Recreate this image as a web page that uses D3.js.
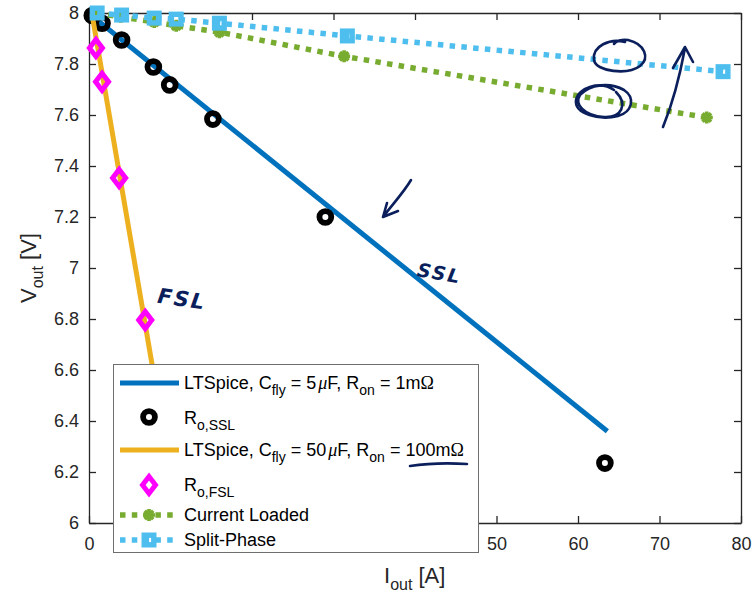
<!DOCTYPE html>
<html>
<head>
<meta charset="utf-8">
<script src="https://cdn.jsdelivr.net/npm/d3@7"></script>
<style>
  body { margin: 0; background: #fff; }
  svg { display: block; font-family: "Liberation Sans", Arial, sans-serif; }
</style>
</head>
<body>
<div id="chart"></div>
<script>
// data (Iout in A, Vout in V)
const ltspiceSSL = [[0.3, 7.99], [63.6, 6.36]];
const roSSL = [[0.4, 7.99], [1.6, 7.96], [4.0, 7.894], [7.9, 7.788], [9.9, 7.718], [15.2, 7.584], [29.0, 7.2], [63.3, 6.235]];
const ltspiceFSL = [[0.4, 7.99], [10.0, 6.2]];
const roFSL = [[0.85, 7.863], [1.6, 7.73], [3.7, 7.353], [6.9, 6.796]];
const currentLoaded = [[0.9, 7.998], [3.9, 7.985], [8.0, 7.965], [10.7, 7.95], [16.0, 7.925], [31.3, 7.83], [75.8, 7.59]];
const splitPhase = [[1.0, 8.0], [4.0, 7.992], [8.0, 7.98], [10.7, 7.976], [16.0, 7.96], [31.7, 7.91], [77.8, 7.77]];

const xTicks = [0, 10, 20, 30, 40, 50, 60, 70, 80];
const yTicks = [6, 6.2, 6.4, 6.6, 6.8, 7, 7.2, 7.4, 7.6, 7.8, 8];

let w = 756;
let h = 595;
let padL = 89, padR = 741, padT = 13, padB = 523;
// legend box (it hangs over the lower x labels, as in the figure)
let legX = 113.5, legY = 364.5, legW = 365, legH = 188;

let svg = d3.select("#chart").append("svg")
    .attr("width", w)
    .attr("height", h);

let x = d3.scaleLinear().domain([0, 80]).range([padL, padR]);
let y = d3.scaleLinear().domain([6, 8]).range([padB, padT]);

const ink = "#262626";

// axes box with inward ticks
let xAxis = svg.append("g")
    .attr("transform", "translate(0," + padB + ")")
    .call(d3.axisBottom(x).tickValues(xTicks).tickSize(-7).tickSizeOuter(0).tickPadding(14).tickFormat(d3.format("d")));
let xTop = svg.append("g")
    .attr("transform", "translate(0," + padT + ")")
    .call(d3.axisTop(x).tickValues(xTicks).tickSize(-7).tickSizeOuter(0).tickFormat(""));
let yAxis = svg.append("g")
    .attr("transform", "translate(" + padL + ",0)")
    .call(d3.axisLeft(y).tickValues(yTicks).tickSize(-7).tickSizeOuter(0).tickPadding(10).tickFormat(d3.format("~g")));
let yRight = svg.append("g")
    .attr("transform", "translate(" + padR + ",0)")
    .call(d3.axisRight(y).tickValues(yTicks).tickSize(-7).tickSizeOuter(0).tickFormat(""));

[xAxis, xTop, yAxis, yRight].forEach(function (g) {
    g.selectAll("path.domain").attr("stroke", ink).attr("stroke-width", 1.3);
    g.selectAll(".tick line").attr("stroke", ink).attr("stroke-width", 1.3);
    g.selectAll(".tick text").attr("fill", ink).attr("font-size", 18)
        .attr("font-family", "Liberation Sans, Arial, sans-serif");
});
xAxis.selectAll(".tick text").attr("dy", "0.71em");
// labels sitting under the legend are covered in the figure
xAxis.selectAll(".tick text").filter(function (d) {
    return x(d) > legX + 5 && x(d) < legX + legW;
}).remove();

// axis titles
svg.append("text")
    .attr("x", 384).attr("y", 583)
    .attr("font-size", 22).attr("fill", ink)
    .html('I<tspan font-size="16" dy="7">out</tspan><tspan dy="-7"> [A]</tspan>');
svg.append("text")
    .attr("transform", "translate(36,268) rotate(-90)")
    .attr("text-anchor", "middle")
    .attr("font-size", 22).attr("fill", ink)
    .html('V<tspan font-size="16" dy="7">out</tspan><tspan dy="-7"> [V]</tspan>');

let line = d3.line().x(function (d) { return x(d[0]); }).y(function (d) { return y(d[1]); });

const blue = "#0072BD", orange = "#EDB120", magenta = "#FF00FF", green = "#77AC30", lblue = "#4DBEEE";

function diamond(g, cx, cy) {
    g.append("path")
        .attr("d", "M" + cx + "," + (cy - 8.5) + "L" + (cx + 6.5) + "," + cy + "L" + cx + "," + (cy + 8.5) + "L" + (cx - 6.5) + "," + cy + "Z")
        .attr("fill", "none").attr("stroke", magenta).attr("stroke-width", 5);
}
function asterisk(g, cx, cy) {
    let r = 6;
    let p = "";
    [0, 45, 90, 135].forEach(function (a) {
        let dx = r * Math.cos(a * Math.PI / 180), dy = r * Math.sin(a * Math.PI / 180);
        p += "M" + (cx - dx) + "," + (cy - dy) + "L" + (cx + dx) + "," + (cy + dy);
    });
    g.append("path").attr("d", p).attr("stroke", green).attr("stroke-width", 3.6).attr("fill", "none");
}
function square(g, cx, cy) {
    g.append("rect").attr("x", cx - 4.8).attr("y", cy - 4.8).attr("width", 9.6).attr("height", 9.6)
        .attr("fill", "none").attr("stroke", lblue).attr("stroke-width", 5.4);
}
function ring(g, cx, cy) {
    g.append("circle").attr("cx", cx).attr("cy", cy).attr("r", 5.9)
        .attr("fill", "none").attr("stroke", "#000").attr("stroke-width", 5.8);
}

let plot = svg.append("g");

plot.append("path").datum(ltspiceSSL).attr("d", line)
    .attr("fill", "none").attr("stroke", blue).attr("stroke-width", 5);
roSSL.forEach(function (d) { ring(plot, x(d[0]), y(d[1])); });

plot.append("path").datum(ltspiceFSL).attr("d", line)
    .attr("fill", "none").attr("stroke", orange).attr("stroke-width", 5);
roFSL.forEach(function (d) { diamond(plot, x(d[0]), y(d[1])); });

plot.append("path").datum(currentLoaded).attr("d", line)
    .attr("fill", "none").attr("stroke", green).attr("stroke-width", 5.5).attr("stroke-dasharray", "5.5,6.3");
currentLoaded.forEach(function (d) { asterisk(plot, x(d[0]), y(d[1])); });

plot.append("path").datum(splitPhase).attr("d", line)
    .attr("fill", "none").attr("stroke", lblue).attr("stroke-width", 5.5).attr("stroke-dasharray", "5.5,6.3");
splitPhase.forEach(function (d) { square(plot, x(d[0]), y(d[1])); });

// legend
let legend = svg.append("g");
legend.append("rect")
    .attr("x", legX).attr("y", legY).attr("width", legW).attr("height", legH)
    .attr("fill", "#fff").attr("stroke", "#6e6e6e").attr("stroke-width", 1);

function legendText(ty, html) {
    legend.append("text").attr("x", 184).attr("y", ty)
        .attr("font-size", 18).attr("fill", "#000").html(html);
}
const mu = '<tspan dx="2" font-family="Liberation Serif, DejaVu Serif, serif" font-style="italic">μ</tspan>';
const ohm = '<tspan font-family="Liberation Serif, DejaVu Serif, serif">Ω</tspan>';

legend.append("line").attr("x1", 120).attr("x2", 179).attr("y1", 383).attr("y2", 383)
    .attr("stroke", blue).attr("stroke-width", 5);
legendText(389, 'LTSpice, C<tspan font-size="14" dy="6">fly</tspan><tspan dy="-6"> = 5</tspan>' + mu + 'F, R<tspan font-size="14" dy="6">on</tspan><tspan dy="-6"> = 1m</tspan>' + ohm);

ring(legend, 149, 417);
legendText(424, 'R<tspan font-size="14" dy="6">o,SSL</tspan>');

legend.append("line").attr("x1", 120).attr("x2", 179).attr("y1", 450).attr("y2", 450)
    .attr("stroke", orange).attr("stroke-width", 5);
legendText(456, 'LTSpice, C<tspan font-size="14" dy="6">fly</tspan><tspan dy="-6"> = 50</tspan>' + mu + 'F, R<tspan font-size="14" dy="6">on</tspan><tspan dy="-6"> = 100m</tspan>' + ohm);

diamond(legend, 149, 485);
legendText(491, 'R<tspan font-size="14" dy="6">o,FSL</tspan>');

legend.append("line").attr("x1", 120).attr("x2", 179).attr("y1", 515).attr("y2", 515)
    .attr("stroke", green).attr("stroke-width", 5.5).attr("stroke-dasharray", "5.5,6.3");
asterisk(legend, 149, 515);
legendText(521, 'Current Loaded');

legend.append("line").attr("x1", 120).attr("x2", 179).attr("y1", 540).attr("y2", 540)
    .attr("stroke", lblue).attr("stroke-width", 5.5).attr("stroke-dasharray", "5.5,6.3");
square(legend, 149, 540);
legendText(546, 'Split-Phase');

// hand-drawn pen notes
const pen = "#0b1f5c";
let notes = svg.append("g").attr("fill", "none").attr("stroke", pen)
    .attr("stroke-width", 2.6).attr("stroke-linecap", "round").attr("stroke-linejoin", "round");
notes.append("path").attr("d", "M411,180 C404,192 392,205 383,217 M387,203 L383,217 L398,211");
notes.append("path").attr("d", "M663,127 C672,105 680,75 685,48 M673,68 L685,47 L693,62");
notes.append("path").attr("d", "M625,42 C610,38 592,46 594,60 C596,72 628,75 640,66 C650,58 645,44 628,40 C622,39 616,41 614,44");
notes.append("path").attr("d", "M614,90 C600,80 578,88 576,100 C574,114 600,121 618,116 C632,112 636,98 624,90 C610,82 590,84 580,95 C574,104 584,116 604,117 C622,118 628,104 616,92");
notes.append("path").attr("d", "M410,466 C430,463 450,463 467,464");
svg.append("text").attr("x", 418).attr("y", 280)
    .attr("transform", "rotate(10,440,268)")
    .attr("font-family", "DejaVu Sans, sans-serif").attr("font-style", "italic").attr("font-weight", "bold")
    .attr("font-size", 19).attr("fill", pen).attr("letter-spacing", 2).text("SSL");
svg.append("text").attr("x", 158).attr("y", 306)
    .attr("transform", "rotate(8,180,296)")
    .attr("font-family", "DejaVu Sans, sans-serif").attr("font-style", "italic").attr("font-weight", "bold")
    .attr("font-size", 21).attr("fill", pen).attr("letter-spacing", 2).text("FSL");
</script>
</body>
</html>
